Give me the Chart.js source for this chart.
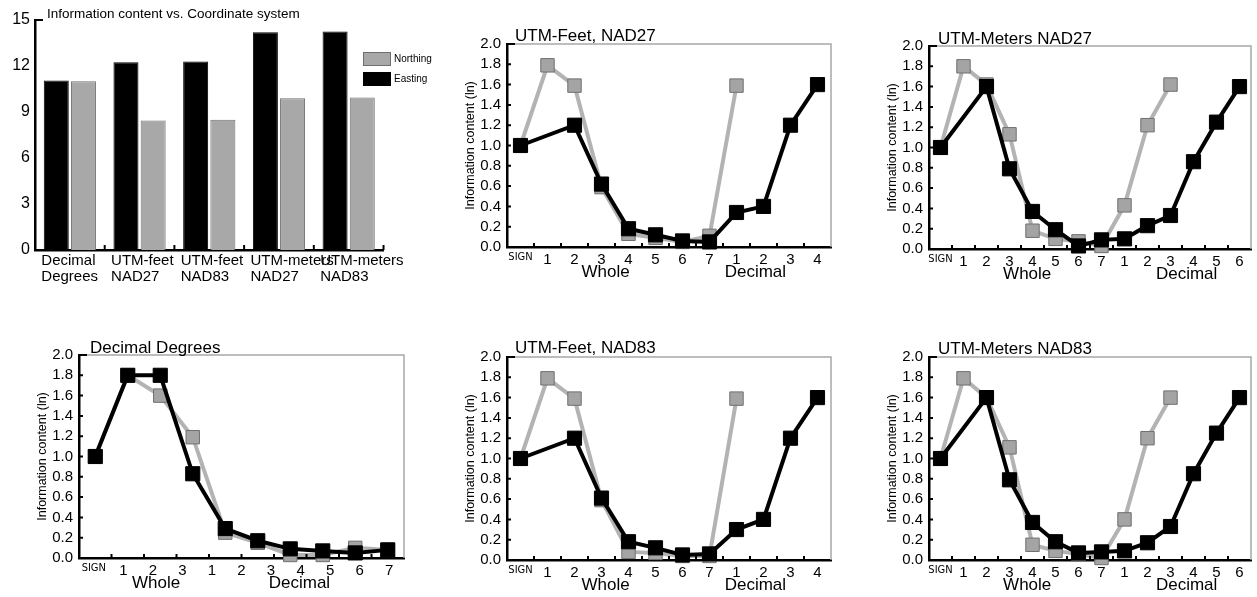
<!DOCTYPE html>
<html>
<head>
<meta charset="utf-8">
<script src="https://cdn.jsdelivr.net/npm/chart.js@4.4.1/dist/chart.umd.min.js"></script>
<style>
  html, body { margin: 0; padding: 0; background: #fff; overflow: hidden; width: 1257px; height: 597px; }
  canvas { position: absolute; }
  .key { position: absolute; left: 363px; font: 10px 'Liberation Sans', Arial, sans-serif; color: #000; }
  .key i { position: absolute; left: 0; top: 0; width: 26px; height: 12px; border: 1px solid #6e6e6e; }
  .key span { position: absolute; left: 31px; top: 0; line-height: 14px; white-space: nowrap; }
</style>
</head>
<body>
<canvas id="bars"></canvas>
<canvas id="feet27"></canvas>
<canvas id="meters27"></canvas>
<canvas id="degrees"></canvas>
<canvas id="feet83"></canvas>
<canvas id="meters83"></canvas>
<div class="key" style="top:52px"><i style="background:#a8a8a8"></i><span>Northing</span></div>
<div class="key" style="top:72px"><i style="background:#000;border-color:#000"></i><span>Easting</span></div>
<script>
// ---- data ----
const barCategories = [['Decimal', 'Degrees'], ['UTM-feet', 'NAD27'], ['UTM-feet', 'NAD83'], ['UTM-meters', 'NAD27'], ['UTM-meters', 'NAD83']];
const eastingTotals = [11.05, 12.25, 12.3, 14.2, 14.25];
const northingTotals = [11.0, 8.45, 8.5, 9.9, 9.95];

const feetLabels = ['SIGN', '1', '2', '3', '4', '5', '6', '7', '1', '2', '3', '4'];
const meterLabels = ['SIGN', '1', '2', '3', '4', '5', '6', '7', '1', '2', '3', '4', '5', '6'];
const degreeLabels = ['SIGN', '1', '2', '3', '1', '2', '3', '4', '5', '6', '7'];
const groupNames = ['Whole', 'Decimal'];

const feet27North = [1.0, 1.79, 1.59, 0.59, 0.13, 0.09, 0.05, 0.11, 1.59];
const feet27East = [1.0, null, 1.2, 0.62, 0.18, 0.12, 0.06, 0.05, 0.34, 0.40, 1.20, 1.60];

const feet83North = [1.0, 1.79, 1.59, 0.59, 0.08, 0.07, 0.04, 0.04, 1.59];
const feet83East = [1.0, null, 1.2, 0.61, 0.18, 0.12, 0.05, 0.06, 0.30, 0.40, 1.20, 1.60];

const meters27North = [1.0, 1.80, 1.62, 1.13, 0.18, 0.10, 0.075, 0.03, 0.43, 1.22, 1.62];
const meters27East = [1.0, null, 1.60, 0.79, 0.37, 0.19, 0.03, 0.09, 0.10, 0.23, 0.33, 0.86, 1.25, 1.60];

const meters83North = [1.0, 1.79, 1.60, 1.11, 0.15, 0.09, 0.06, 0.02, 0.40, 1.20, 1.60];
const meters83East = [1.0, null, 1.60, 0.79, 0.37, 0.18, 0.07, 0.08, 0.09, 0.17, 0.33, 0.85, 1.25, 1.60];

const degreesNorth = [1.0, 1.8, 1.6, 1.19, 0.25, 0.15, 0.03, 0.03, 0.10, 0.08];
const degreesEast = [1.0, 1.8, 1.8, 0.83, 0.29, 0.17, 0.09, 0.07, 0.05, 0.08];

// ---- shared setup ----
const FONT = "'Liberation Sans', Arial, Helvetica, sans-serif";
Chart.defaults.font.family = FONT;
Chart.defaults.color = '#000';
Chart.defaults.animation = false;
Chart.defaults.events = [];
Chart.defaults.plugins.legend.display = false;
Chart.defaults.plugins.tooltip.enabled = false;

function place(id, x, y, w, h) {
  const c = document.getElementById(id);
  c.width = w; c.height = h;
  c.style.left = x + 'px'; c.style.top = y + 'px';
  c.style.width = w + 'px'; c.style.height = h + 'px';
  return c;
}

function toPoints(values) {
  return values.map((v, i) => ({ x: i, y: v })).filter(p => p.y !== null);
}

// panel title, inward tick marks, grey top/right frame
const decor = {
  id: 'decor',
  afterDraw(chart, args, o) {
    const { ctx, chartArea: a } = chart;
    const x = chart.scales.x, y = chart.scales.y;
    ctx.save();
    ctx.strokeStyle = '#000';
    ctx.lineWidth = 2;
    ctx.beginPath();
    if (o.kind === 'bar') {
      const n = x.getLabels().length, w = (x.right - x.left) / n;
      for (let i = 1; i <= n; i++) {
        ctx.moveTo(x.left + i * w, a.bottom); ctx.lineTo(x.left + i * w, a.bottom - 5);
      }
      ctx.moveTo(a.left, a.top); ctx.lineTo(a.left + 8, a.top);
    } else {
      for (let i = 0; i < x.max - 0.5; i++) {
        const px = x.getPixelForValue(i + 0.5);
        ctx.moveTo(px, a.bottom); ctx.lineTo(px, a.bottom - 4);
      }
      y.ticks.forEach(t => {
        const py = y.getPixelForValue(t.value);
        ctx.moveTo(a.left, py); ctx.lineTo(a.left + (t.value >= 1.99 ? 8 : 4), py);
      });
    }
    ctx.stroke();
    if (o.box) {
      ctx.strokeStyle = '#a8a8a8';
      ctx.lineWidth = 1.5;
      ctx.beginPath();
      ctx.moveTo(a.left + 8, a.top); ctx.lineTo(a.right, a.top); ctx.lineTo(a.right, a.bottom);
      ctx.stroke();
    }
    ctx.fillStyle = '#000';
    ctx.font = o.size + 'px ' + FONT;
    ctx.textBaseline = 'alphabetic';
    ctx.textAlign = 'left';
    ctx.fillText(o.title, a.left + o.dx, a.top - o.dy);
    ctx.restore();
  }
};

// ---- bar chart: totals ----
new Chart(place('bars', 0, 0, 440, 290), {
  type: 'bar',
  data: {
    labels: barCategories,
    datasets: [
      { label: 'Easting', data: eastingTotals, backgroundColor: '#000', borderColor: '#000', borderWidth: 1, categoryPercentage: 0.78, barPercentage: 0.92 },
      { label: 'Northing', data: northingTotals, backgroundColor: '#a8a8a8', borderColor: '#707070', borderWidth: 1, categoryPercentage: 0.78, barPercentage: 0.92 }
    ]
  },
  options: {
    responsive: false,
    devicePixelRatio: 1,
    layout: { padding: { left: 0, top: 20, right: 50, bottom: 0 } },
    scales: {
      x: {
        grid: { display: false, drawTicks: false },
        border: { color: '#000', width: 2.5 },
        ticks: { align: 'start', labelOffset: -28.5, padding: 3, autoSkip: false, maxRotation: 0, font: { size: 15, lineHeight: 1.07 } },
        afterFit: s => { s.height = 40; }
      },
      y: {
        min: 0, max: 15,
        ticks: { stepSize: 3, padding: 5, autoSkip: false, font: { size: 16 } },
        grid: { display: false, drawTicks: false },
        border: { color: '#000', width: 2.5 },
        afterFit: s => { s.width = 35; }
      }
    },
    plugins: { decor: { kind: 'bar', title: 'Information content vs. Coordinate system', size: 13.5, dx: 12, dy: 2 } }
  },
  plugins: [decor]
});

// ---- digit panels ----
// the two label rows use mirror + negative padding so they are not clipped to their thin boxes
function panel(id, area, title, dx, dy, labels, groupAt, north, east) {
  const W = 44, PT = 24, PR = 6, HL = 15, HG = 25;
  const x0 = area.l - W, y0 = area.t - PT;
  const npos = east.length;
  return new Chart(place(id, x0, y0, area.r + PR - x0, area.b + HL + HG - y0), {
    type: 'line',
    data: {
      datasets: [
        { label: 'Easting', data: toPoints(east), order: 0, borderColor: '#000', borderWidth: 4,
          pointStyle: 'rect', pointRadius: 10, pointBackgroundColor: '#000', pointBorderColor: '#000', pointBorderWidth: 1, clip: false },
        { label: 'Northing', data: toPoints(north), order: 1, borderColor: '#b3b3b3', borderWidth: 4,
          pointStyle: 'rect', pointRadius: 9.5, pointBackgroundColor: '#a4a4a4', pointBorderColor: '#707070', pointBorderWidth: 1, clip: false }
      ]
    },
    options: {
      responsive: false,
      devicePixelRatio: 1,
      layout: { padding: { left: 0, top: PT, right: PR, bottom: 0 } },
      scales: {
        x: { type: 'linear', display: false, min: -0.5, max: npos - 0.5, weight: 2 },
        xl: {
          type: 'category', labels: labels, position: 'bottom', offset: true, weight: 0,
          grid: { display: false, drawTicks: false },
          border: { color: '#000', width: 2.5 },
          ticks: {
            mirror: true, padding: -21.5, autoSkip: false, maxRotation: 0,
            font: c => c.index === 0
              ? { family: "'Liberation Sans Narrow', 'DejaVu Sans Condensed', sans-serif", size: 11, lineHeight: 2.0 }
              : { size: 15 }
          },
          afterFit: s => { s.height = HL; }
        },
        xg: {
          type: 'linear', position: 'bottom', weight: 1, min: -0.5, max: labels.length - 0.5,
          grid: { display: false, drawTicks: false },
          border: { display: false },
          ticks: { mirror: true, padding: -20.7, autoSkip: false, maxRotation: 0, font: { size: 17 }, callback: (v, i) => groupNames[i] },
          afterBuildTicks: s => { s.ticks = groupAt.map(v => ({ value: v })); },
          afterFit: s => { s.height = HG; }
        },
        y: {
          min: 0, max: 2,
          ticks: { stepSize: 0.2, padding: 6, autoSkip: false, font: { size: 15 }, callback: v => v.toFixed(1) },
          grid: { display: false, drawTicks: false },
          border: { color: '#000', width: 2.5 },
          title: { display: true, text: 'Information content (ln)', font: { size: 12.5 }, padding: 0 },
          afterFit: s => { s.width = W; }
        }
      },
      plugins: { decor: { kind: 'line', box: true, title: title, size: 17, dx: dx, dy: dy } }
    },
    plugins: [decor]
  });
}

panel('feet27', { l: 507, r: 836, t: 44, b: 247 }, 'UTM-Feet, NAD27', 8, 3, feetLabels, [3.15, 8.7], feet27North, feet27East);
panel('meters27', { l: 929, r: 1256, t: 46, b: 249 }, 'UTM-Meters NAD27', 9, 2, meterLabels, [3.77, 10.7], meters27North, meters27East);
panel('degrees', { l: 79, r: 409, t: 355, b: 558 }, 'Decimal Degrees', 11, 2, degreeLabels, [2.11, 6.96], degreesNorth, degreesEast);
panel('feet83', { l: 507, r: 836, t: 357, b: 560 }, 'UTM-Feet, NAD83', 8, 4, feetLabels, [3.15, 8.7], feet83North, feet83East);
panel('meters83', { l: 929, r: 1256, t: 357, b: 560 }, 'UTM-Meters NAD83', 9, 3, meterLabels, [3.77, 10.7], meters83North, meters83East);
</script>
</body>
</html>
